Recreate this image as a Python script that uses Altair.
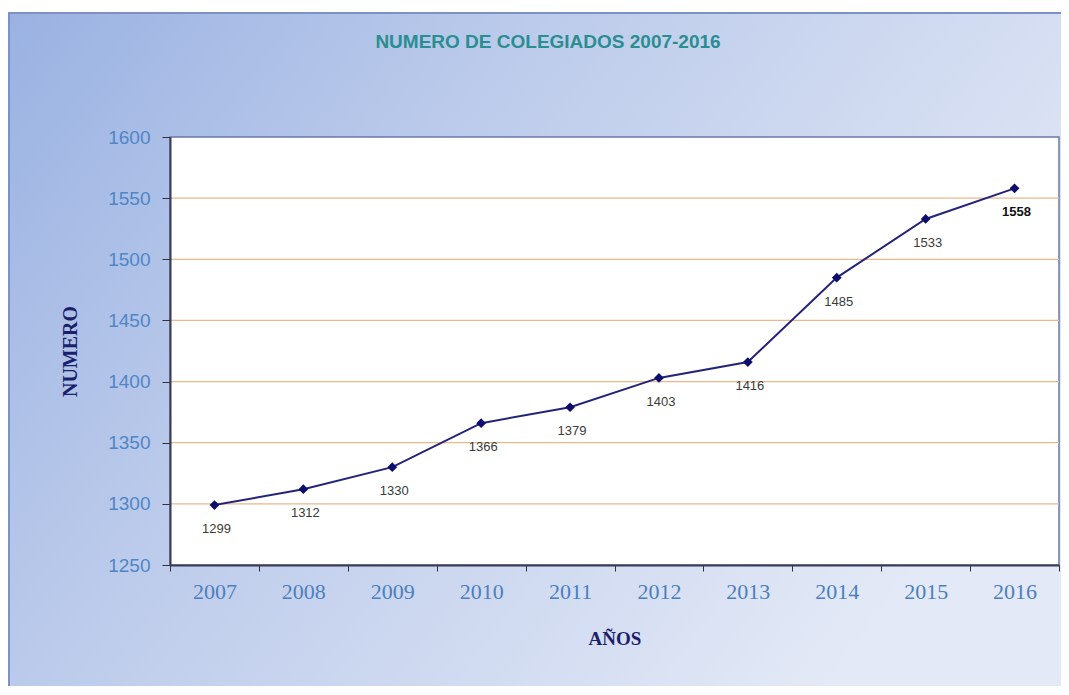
import altair as alt
import pandas as pd

years = ["2007", "2008", "2009", "2010", "2011", "2012", "2013", "2014", "2015", "2016"]
colegiados = [1299, 1312, 1330, 1366, 1379, 1403, 1416, 1485, 1533, 1558]
bold_flags = [False, False, False, False, False, False, False, False, False, True]
y_ticks = [1250, 1300, 1350, 1400, 1450, 1500, 1550, 1600]
grid_values = [1300, 1350, 1400, 1450, 1500, 1550]
chart_title = "NUMERO DE COLEGIADOS 2007-2016"
x_title = "AÑOS"
y_title = "NUMERO"

W, H = 889, 428

df = pd.DataFrame({"Año": years, "Colegiados": colegiados, "Bold": bold_flags})
grid_df = pd.DataFrame({"v": grid_values})
one = pd.DataFrame({"a": [0]})

yscale = alt.Scale(domain=[1250, 1600], nice=False, zero=False)

bg = alt.Chart(one).mark_rect(
    clip=False,
    color=alt.Gradient(
        gradient="linear",
        x1=0, y1=0, x2=1, y2=0.5,
        stops=[
            alt.GradientStop(color="#9ab2e2", offset=0),
            alt.GradientStop(color="#bccbeb", offset=0.4),
            alt.GradientStop(color="#e3e9f6", offset=1),
        ],
    ),
    stroke="#7d91c4",
    strokeWidth=2,
).encode(
    x=alt.value(-161), x2=alt.value(905), y=alt.value(-124), y2=alt.value(580)
)

plot_bg = alt.Chart(one).mark_rect(
    clip=False,
    color="#ffffff",
    stroke="#6a78a8",
    strokeWidth=1.5,
).encode(x=alt.value(0), x2=alt.value(W), y=alt.value(0), y2=alt.value(H))

grid = alt.Chart(grid_df).mark_rule(color="#eab98a", strokeWidth=1.2).encode(
    y=alt.Y("v:Q", scale=yscale),
    x=alt.value(0), x2=alt.value(W),
)

title = alt.Chart(one).mark_text(
    text=chart_title, font="Liberation Sans", fontWeight="bold",
    fontSize=19, color="#2a8e91", align="center", baseline="middle", clip=False,
).encode(x=alt.value(378), y=alt.value(-95))

xenc = alt.X(
    "Año:N", sort=years, scale=alt.Scale(paddingInner=0, paddingOuter=0),
    axis=alt.Axis(
        title=x_title, titleFont="Liberation Serif", titleFontSize=19, titleFontWeight="bold",
        titleColor="#1c1f6b", titleX=W / 2, titleY=73, titleBaseline="middle", titleAlign="center",
        labelFont="Liberation Serif", labelFontSize=22, labelColor="#4d7fbd", labelAngle=0,
        labelPadding=10, tickBand="extent", tickSize=6, tickColor="#333", domainColor="#3a3a55",
        domainWidth=2, grid=False, zindex=1,
    ),
)
yenc = alt.Y(
    "Colegiados:Q", scale=yscale,
    axis=alt.Axis(
        values=y_ticks, format="d", title=y_title, titleFont="Liberation Serif", titleFontSize=20,
        titleFontWeight="bold", titleColor="#1c1f6b", titleX=-100, titleY=H / 2,
        titleAngle=-90, titleAlign="center", titleBaseline="middle",
        labelFont="Liberation Sans", labelFontSize=19, labelColor="#4f86c6", labelPadding=12,
        tickSize=8, tickColor="#333", domainColor="#3a3a55", domainWidth=2, grid=False, zindex=1,
    ),
)

line = alt.Chart(df).mark_line(color="#23237c", strokeWidth=2).encode(x=xenc, y=yenc)
pts = alt.Chart(df).mark_point(shape="diamond", filled=True, size=95, color="#0d0d6e", opacity=1).encode(
    x=alt.X("Año:N", sort=years), y=alt.Y("Colegiados:Q", scale=yscale)
)
labels = alt.Chart(df).transform_filter("!datum.Bold").mark_text(
    font="Liberation Sans", fontSize=13, dy=24, dx=2, color="#3a3a3a"
).encode(
    x=alt.X("Año:N", sort=years), y=alt.Y("Colegiados:Q", scale=yscale),
    text="Colegiados:Q",
)
labels_bold = alt.Chart(df).transform_filter("datum.Bold").mark_text(
    font="Liberation Sans", fontSize=13, dy=24, dx=2, color="#111111", fontWeight="bold"
).encode(
    x=alt.X("Año:N", sort=years), y=alt.Y("Colegiados:Q", scale=yscale),
    text="Colegiados:Q",
)

chart = alt.layer(bg, plot_bg, grid, title, line, pts, labels, labels_bold).properties(
    width=W, height=H,
    autosize=alt.AutoSizeParams(type="none"),
    padding={"left": 162, "top": 129, "right": 2, "bottom": 121},
    background="white",
).configure_view(stroke=None)

chart.save("out.html", embed_options={"renderer": "svg", "actions": False})
